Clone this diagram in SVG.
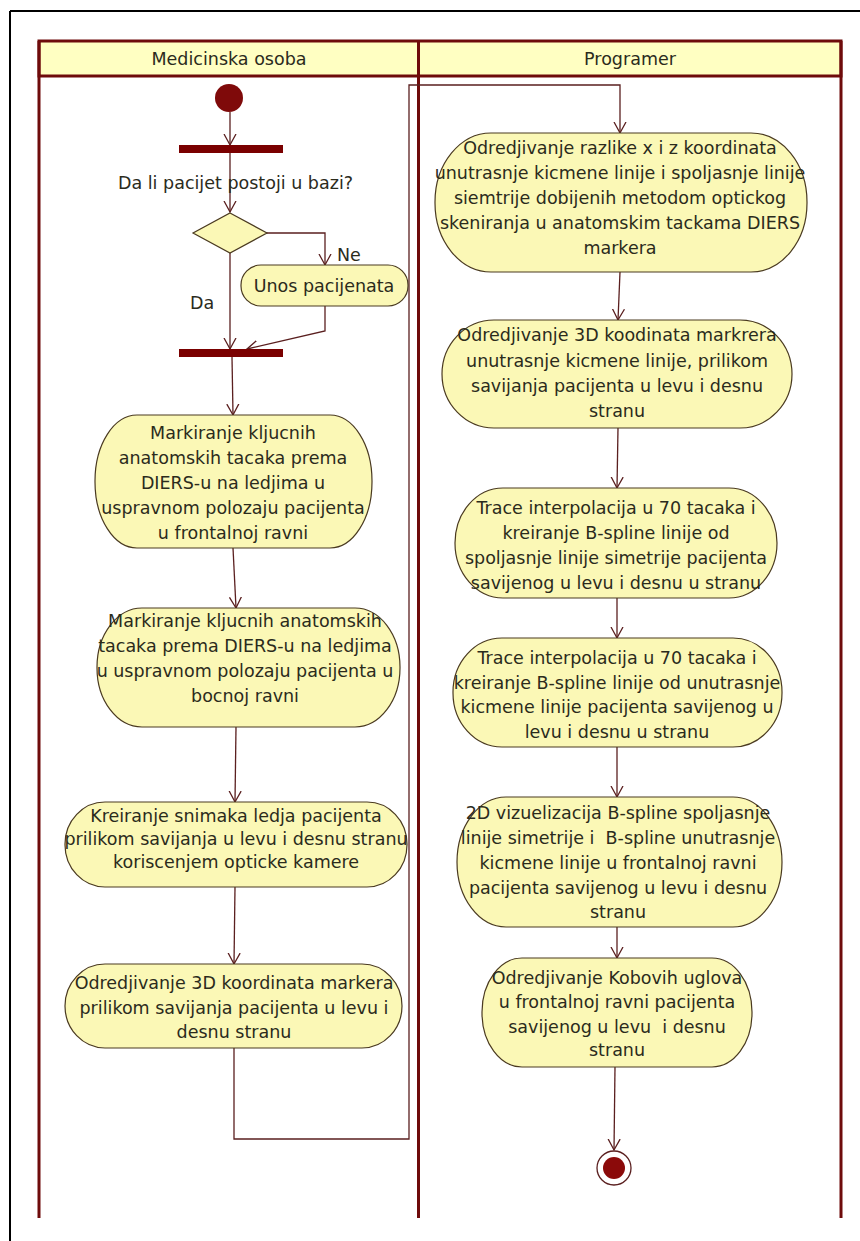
<svg xmlns="http://www.w3.org/2000/svg" width="860" height="1241" viewBox="0 0 860 1241">
<defs>
<style>
.lane{stroke:#6e0b0b;stroke-width:3;fill:none}
.hdr{fill:#ffffc2;stroke:#6e0b0b;stroke-width:3}
.act{fill:#fbf8b6;stroke:#4a3a20;stroke-width:1.2}
.t{font-family:"DejaVu Sans",sans-serif;font-size:17.5px;fill:#2b2b1c;text-anchor:middle;white-space:pre}
.lbl{font-family:"DejaVu Sans",sans-serif;font-size:17.5px;fill:#2b2b1c}
.c{stroke:#5a1f1f;stroke-width:1.3;fill:none;marker-end:url(#arr)}
.bar{fill:#7a0000}
</style>
<marker id="arr" markerUnits="userSpaceOnUse" markerWidth="14" markerHeight="14" refX="11" refY="6" orient="auto" viewBox="0 0 14 12">
<path d="M0,0 L11,6 L0,12" fill="none" stroke="#5a1f1f" stroke-width="1.3"/>
</marker>
</defs>
<rect width="860" height="1241" fill="#ffffff"/>
<g id="frame">
<line x1="10" y1="11" x2="860" y2="11" stroke="#000" stroke-width="2"/>
<line x1="10" y1="11" x2="10" y2="1241" stroke="#000" stroke-width="2"/>
</g>
<g id="lanes">
<rect class="hdr" x="39" y="41" width="802" height="35"/>
<line class="lane" x1="39" y1="41" x2="39" y2="1218"/>
<line class="lane" x1="418.5" y1="41" x2="418.5" y2="1218"/>
<line class="lane" x1="841" y1="41" x2="841" y2="1218"/>
<text class="t" x="229" y="65">Medicinska osoba</text>
<text class="t" x="630" y="65">Programer</text>
</g>
<g id="connectors">
<line class="c" x1="230" y1="112" x2="230" y2="145"/>
<line class="c" x1="230" y1="153" x2="230" y2="212"/>
<polyline class="c" points="266,233 325,233 325,265"/>
<line class="c" x1="230" y1="253" x2="230" y2="349"/>
<polyline class="c" points="325,306 325,331 247,349"/>
<line class="c" x1="232" y1="357" x2="233" y2="415"/>
<line class="c" x1="233" y1="548" x2="236" y2="608"/>
<line class="c" x1="236" y1="727" x2="235" y2="802"/>
<line class="c" x1="235" y1="887" x2="234" y2="964"/>
<polyline class="c" points="234,1048 234,1139 409,1139 409,85 620,85 620,133"/>
<line class="c" x1="620" y1="272" x2="618" y2="320"/>
<line class="c" x1="618" y1="428" x2="617" y2="488"/>
<line class="c" x1="617" y1="598" x2="617" y2="638"/>
<line class="c" x1="617" y1="747" x2="617" y2="797"/>
<line class="c" x1="617" y1="927" x2="617" y2="958"/>
<line class="c" x1="615" y1="1067" x2="614" y2="1150"/>
</g>
<g id="start">
<circle cx="229" cy="98" r="14" fill="#7f0a0a"/>
</g>
<g id="fork1">
<rect class="bar" x="179" y="145" width="104" height="8"/>
</g>
<g id="question">
<text class="lbl" x="118" y="189">Da li pacijet postoji u bazi?</text>
</g>
<g id="decision">
<polygon points="230,213 267,233 230,253 193,233" fill="#fbf8b6" stroke="#4a3a20" stroke-width="1.2"/>
<text class="lbl" x="337" y="261">Ne</text>
<text class="lbl" x="190" y="309">Da</text>
</g>
<g id="unos">
<rect class="act" x="241" y="265" width="167" height="41" rx="20" ry="20"/>
<text class="t" x="324" y="292">Unos pacijenata</text>
</g>
<g id="join">
<rect class="bar" x="179" y="349" width="104" height="8"/>
</g>
<g id="L1">
<rect class="act" x="95" y="415" width="277" height="133" rx="42" ry="66"/>
<text class="t" x="233" y="439">Markiranje kljucnih</text>
<text class="t" x="233" y="464">anatomskih tacaka prema</text>
<text class="t" x="233" y="489">DIERS-u na ledjima u</text>
<text class="t" x="233" y="514">uspravnom polozaju pacijenta</text>
<text class="t" x="233" y="539">u frontalnoj ravni</text>
</g>
<g id="L2">
<rect class="act" x="97" y="608" width="303" height="119" rx="45" ry="59"/>
<text class="t" x="245" y="627">Markiranje kljucnih anatomskih</text>
<text class="t" x="245" y="652">tacaka prema DIERS-u na ledjima</text>
<text class="t" x="245" y="677">u uspravnom polozaju pacijenta u</text>
<text class="t" x="245" y="702">bocnoj ravni</text>
</g>
<g id="L3">
<rect class="act" x="65" y="802" width="342" height="85" rx="40" ry="42"/>
<text class="t" x="236" y="822">Kreiranje snimaka ledja pacijenta</text>
<text class="t" x="236" y="845">prilikom savijanja u levu i desnu stranu</text>
<text class="t" x="236" y="868">koriscenjem opticke kamere</text>
</g>
<g id="L4">
<rect class="act" x="65" y="964" width="337" height="84" rx="40" ry="42"/>
<text class="t" x="234" y="989">Odredjivanje 3D koordinata markera</text>
<text class="t" x="234" y="1014">prilikom savijanja pacijenta u levu i</text>
<text class="t" x="234" y="1038">desnu stranu</text>
</g>
<g id="R1">
<rect class="act" x="435" y="133" width="372" height="139" rx="56" ry="69"/>
<text class="t" x="620" y="154">Odredjivanje razlike x i z koordinata</text>
<text class="t" x="620" y="179">unutrasnje kicmene linije i spoljasnje linije</text>
<text class="t" x="620" y="204">siemtrije dobijenih metodom optickog</text>
<text class="t" x="620" y="229">skeniranja u anatomskim tackama DIERS</text>
<text class="t" x="620" y="254">markera</text>
</g>
<g id="R2">
<rect class="act" x="442" y="320" width="350" height="108" rx="52" ry="54"/>
<text class="t" x="617" y="341">Odredjivanje 3D koodinata markrera</text>
<text class="t" x="617" y="367">unutrasnje kicmene linije, prilikom</text>
<text class="t" x="617" y="392">savijanja pacijenta u levu i desnu</text>
<text class="t" x="617" y="417">stranu</text>
</g>
<g id="R3">
<rect class="act" x="455" y="488" width="322" height="110" rx="48" ry="55"/>
<text class="t" x="616" y="514">Trace interpolacija u 70 tacaka i</text>
<text class="t" x="616" y="539">kreiranje B-spline linije od</text>
<text class="t" x="616" y="564">spoljasnje linije simetrije pacijenta</text>
<text class="t" x="616" y="589">savijenog u levu i desnu u stranu</text>
</g>
<g id="R4">
<rect class="act" x="453" y="638" width="329" height="109" rx="49" ry="54"/>
<text class="t" x="617" y="664">Trace interpolacija u 70 tacaka i</text>
<text class="t" x="617" y="689">kreiranje B-spline linije od unutrasnje</text>
<text class="t" x="617" y="713">kicmene linije pacijenta savijenog u</text>
<text class="t" x="617" y="738">levu i desnu u stranu</text>
</g>
<g id="R5">
<rect class="act" x="457" y="797" width="325" height="130" rx="49" ry="65"/>
<text class="t" x="618" y="819">2D vizuelizacija B-spline spoljasnje</text>
<text class="t" x="618" y="844">linije simetrije i  B-spline unutrasnje</text>
<text class="t" x="618" y="869">kicmene linije u frontalnoj ravni</text>
<text class="t" x="618" y="894">pacijenta savijenog u levu i desnu</text>
<text class="t" x="618" y="918">stranu</text>
</g>
<g id="R6">
<rect class="act" x="482" y="958" width="270" height="109" rx="40" ry="54"/>
<text class="t" x="617" y="984">Odredjivanje Kobovih uglova</text>
<text class="t" x="617" y="1008">u frontalnoj ravni pacijenta</text>
<text class="t" x="617" y="1033">savijenog u levu  i desnu</text>
<text class="t" x="617" y="1056">stranu</text>
</g>
<g id="end">
<circle cx="614" cy="1168" r="17" fill="#ffffff" stroke="#5a1f1f" stroke-width="1.3"/>
<circle cx="614" cy="1168" r="11" fill="#8b0a0a"/>
</g>
</svg>
